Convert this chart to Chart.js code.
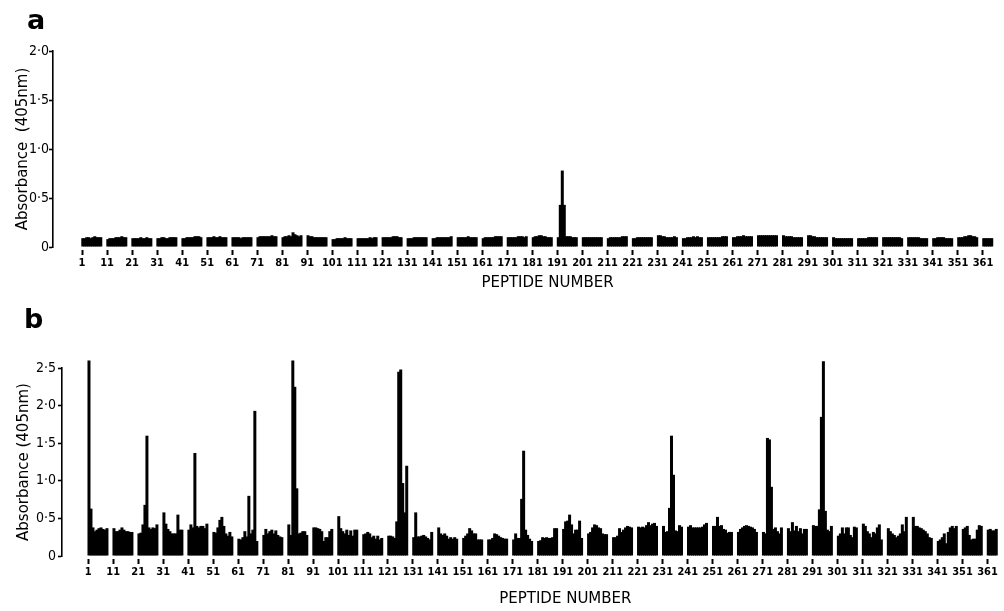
<!DOCTYPE html>
<html>
<head>
<meta charset="utf-8">
<script src="https://cdn.jsdelivr.net/npm/chart.js@4.4.1/dist/chart.umd.min.js"></script>
<style>
    html, body { margin: 0; padding: 0; background: #fff; }
    #wrap { position: relative; width: 1004px; height: 611px; overflow: hidden; }
    canvas { position: absolute; left: 0; }
    #chartA { top: 0; }
    #chartB { top: 300px; }
    .panel { position: absolute; font: bold 27px 'DejaVu Sans', sans-serif; color: #000; line-height: 1; }
</style>
</head>
<body>
<div id="wrap">
    <canvas id="chartA" width="1004" height="300" style="width:1004px;height:300px"></canvas>
    <canvas id="chartB" width="1004" height="311" style="width:1004px;height:311px"></canvas>
    <div class="panel" style="left:27px;top:6px">a</div>
    <div class="panel" style="left:24px;top:305px">b</div>
</div>
<script>
// peptide numbers on the x axis
const xTicks = [1, 11, 21, 31, 41, 51, 61, 71, 81, 91, 101, 111, 121, 131, 141, 151, 161, 171, 181,
    191, 201, 211, 221, 231, 241, 251, 261, 271, 281, 291, 301, 311, 321, 331, 341, 351, 361];
const xTickLabels = ['1', '11', '21', '31', '41', '51', '61', '71', '81', '91', '101', '111', '121', '131',
    '141', '151', '161', '171', '181', '191', '201', '211', '221', '231', '241', '251', '261', '271',
    '281', '291', '301', '311', '321', '331', '341', '351', '361'];
const yLabelsA = ['0', '0·5', '1·0', '1·5', '2·0'];
const yLabelsB = ['0', '0·5', '1·0', '1·5', '2·0', '2·5'];

// absorbance, peptides 1..365 (panel a)
const absA = [
    0.09, 0.09, 0.10, 0.10, 0.09, 0.10, 0.11, 0.10, 0.10, 0.10,
    0.08, 0.09, 0.09, 0.09, 0.10, 0.10, 0.10, 0.11, 0.10, 0.10,
    0.09, 0.09, 0.09, 0.09, 0.10, 0.09, 0.09, 0.10, 0.09, 0.09,
    0.09, 0.09, 0.10, 0.10, 0.09, 0.09, 0.10, 0.10, 0.10, 0.10,
    0.09, 0.09, 0.10, 0.10, 0.10, 0.10, 0.11, 0.11, 0.11, 0.10,
    0.10, 0.10, 0.10, 0.11, 0.10, 0.10, 0.11, 0.10, 0.10, 0.10,
    0.10, 0.10, 0.10, 0.10, 0.09, 0.10, 0.10, 0.10, 0.10, 0.10,
    0.10, 0.11, 0.11, 0.11, 0.11, 0.11, 0.11, 0.12, 0.11, 0.11,
    0.10, 0.11, 0.11, 0.12, 0.11, 0.15, 0.13, 0.12, 0.11, 0.12,
    0.12, 0.11, 0.11, 0.10, 0.10, 0.10, 0.10, 0.10, 0.10, 0.10,
    0.08, 0.08, 0.09, 0.09, 0.09, 0.09, 0.10, 0.09, 0.09, 0.09,
    0.09, 0.09, 0.09, 0.09, 0.09, 0.09, 0.10, 0.09, 0.10, 0.10,
    0.10, 0.10, 0.10, 0.10, 0.10, 0.11, 0.11, 0.11, 0.10, 0.10,
    0.09, 0.09, 0.09, 0.10, 0.10, 0.10, 0.10, 0.10, 0.10, 0.10,
    0.09, 0.09, 0.10, 0.10, 0.10, 0.10, 0.10, 0.10, 0.10, 0.11,
    0.10, 0.10, 0.10, 0.10, 0.10, 0.11, 0.10, 0.10, 0.10, 0.10,
    0.09, 0.10, 0.10, 0.10, 0.10, 0.10, 0.11, 0.11, 0.11, 0.11,
    0.10, 0.10, 0.10, 0.10, 0.10, 0.11, 0.11, 0.11, 0.10, 0.11,
    0.10, 0.11, 0.11, 0.12, 0.12, 0.11, 0.11, 0.10, 0.10, 0.10,
    0.10, 0.43, 0.78, 0.43, 0.11, 0.11, 0.11, 0.10, 0.10, 0.10,
    0.10, 0.10, 0.10, 0.10, 0.10, 0.10, 0.10, 0.10, 0.10, 0.10,
    0.09, 0.10, 0.10, 0.10, 0.10, 0.10, 0.10, 0.11, 0.11, 0.11,
    0.09, 0.09, 0.10, 0.10, 0.10, 0.10, 0.10, 0.10, 0.10, 0.10,
    0.12, 0.12, 0.11, 0.11, 0.10, 0.10, 0.10, 0.10, 0.11, 0.10,
    0.09, 0.09, 0.10, 0.10, 0.10, 0.11, 0.10, 0.11, 0.10, 0.10,
    0.10, 0.10, 0.10, 0.10, 0.10, 0.10, 0.10, 0.11, 0.11, 0.11,
    0.10, 0.10, 0.11, 0.11, 0.11, 0.12, 0.11, 0.11, 0.11, 0.11,
    0.12, 0.12, 0.12, 0.12, 0.12, 0.12, 0.12, 0.12, 0.12, 0.12,
    0.12, 0.11, 0.11, 0.11, 0.11, 0.10, 0.10, 0.10, 0.10, 0.10,
    0.12, 0.12, 0.11, 0.11, 0.10, 0.10, 0.10, 0.10, 0.10, 0.10,
    0.10, 0.09, 0.09, 0.09, 0.09, 0.09, 0.09, 0.09, 0.09, 0.09,
    0.09, 0.09, 0.09, 0.09, 0.09, 0.10, 0.10, 0.10, 0.10, 0.10,
    0.10, 0.10, 0.10, 0.10, 0.10, 0.10, 0.10, 0.10, 0.10, 0.09,
    0.10, 0.10, 0.10, 0.10, 0.10, 0.10, 0.09, 0.09, 0.09, 0.09,
    0.09, 0.09, 0.10, 0.10, 0.10, 0.10, 0.09, 0.09, 0.09, 0.09,
    0.10, 0.10, 0.10, 0.11, 0.11, 0.12, 0.12, 0.11, 0.11, 0.10,
    0.09, 0.09, 0.09, 0.09, 0.09
];

// absorbance, peptides 1..365 (panel b)
const absB = [
    2.60, 0.63, 0.38, 0.33, 0.35, 0.37, 0.38, 0.36, 0.35, 0.37,
    0.37, 0.33, 0.33, 0.35, 0.38, 0.35, 0.33, 0.33, 0.32, 0.32,
    0.30, 0.31, 0.42, 0.68, 1.60, 0.38, 0.36, 0.38, 0.37, 0.42,
    0.58, 0.43, 0.36, 0.33, 0.30, 0.30, 0.30, 0.55, 0.35, 0.35,
    0.35, 0.42, 0.38, 1.37, 0.40, 0.38, 0.40, 0.40, 0.37, 0.43,
    0.32, 0.31, 0.38, 0.48, 0.52, 0.40, 0.30, 0.27, 0.32, 0.26,
    0.23, 0.22, 0.25, 0.33, 0.26, 0.80, 0.30, 0.35, 1.93, 0.20,
    0.28, 0.36, 0.30, 0.33, 0.35, 0.30, 0.34, 0.28, 0.26, 0.25,
    0.42, 0.28, 2.60, 2.25, 0.90, 0.30, 0.31, 0.33, 0.33, 0.28,
    0.38, 0.38, 0.37, 0.36, 0.33, 0.20, 0.25, 0.25, 0.33, 0.36,
    0.53, 0.37, 0.33, 0.30, 0.35, 0.28, 0.34, 0.27, 0.35, 0.35,
    0.29, 0.30, 0.32, 0.30, 0.25, 0.27, 0.23, 0.27, 0.22, 0.24,
    0.27, 0.27, 0.26, 0.24, 0.46, 2.45, 2.48, 0.97, 0.58, 1.20,
    0.25, 0.58, 0.26, 0.26, 0.27, 0.28, 0.26, 0.24, 0.22, 0.32,
    0.38, 0.30, 0.28, 0.30, 0.27, 0.23, 0.25, 0.23, 0.25, 0.23,
    0.24, 0.27, 0.30, 0.37, 0.34, 0.30, 0.30, 0.22, 0.22, 0.22,
    0.22, 0.22, 0.24, 0.30, 0.29, 0.27, 0.25, 0.24, 0.23, 0.23,
    0.22, 0.30, 0.24, 0.24, 0.76, 1.40, 0.35, 0.28, 0.23, 0.20,
    0.20, 0.21, 0.25, 0.24, 0.25, 0.24, 0.24, 0.25, 0.37, 0.37,
    0.36, 0.46, 0.47, 0.55, 0.42, 0.30, 0.35, 0.35, 0.47, 0.24,
    0.30, 0.32, 0.38, 0.42, 0.41, 0.38, 0.37, 0.30, 0.29, 0.29,
    0.25, 0.25, 0.27, 0.37, 0.32, 0.35, 0.38, 0.40, 0.39, 0.38,
    0.39, 0.38, 0.39, 0.38, 0.41, 0.45, 0.41, 0.43, 0.44, 0.40,
    0.40, 0.32, 0.33, 0.64, 1.60, 1.08, 0.34, 0.33, 0.41, 0.39,
    0.39, 0.41, 0.38, 0.38, 0.38, 0.38, 0.38, 0.39, 0.42, 0.44,
    0.40, 0.40, 0.52, 0.40, 0.41, 0.36, 0.35, 0.31, 0.32, 0.32,
    0.32, 0.36, 0.38, 0.40, 0.41, 0.40, 0.39, 0.38, 0.36, 0.32,
    0.32, 0.30, 1.57, 1.55, 0.92, 0.36, 0.38, 0.33, 0.30, 0.38,
    0.37, 0.33, 0.45, 0.34, 0.40, 0.33, 0.37, 0.30, 0.36, 0.36,
    0.41, 0.40, 0.40, 0.62, 1.85, 2.59, 0.60, 0.35, 0.33, 0.40,
    0.27, 0.30, 0.38, 0.30, 0.38, 0.38, 0.28, 0.25, 0.39, 0.38,
    0.43, 0.40, 0.33, 0.30, 0.25, 0.32, 0.30, 0.38, 0.42, 0.22,
    0.37, 0.33, 0.30, 0.28, 0.25, 0.27, 0.30, 0.42, 0.33, 0.52,
    0.52, 0.40, 0.40, 0.38, 0.37, 0.35, 0.33, 0.30, 0.25, 0.24,
    0.20, 0.22, 0.25, 0.30, 0.17, 0.32, 0.38, 0.40, 0.37, 0.40,
    0.36, 0.38, 0.40, 0.28, 0.22, 0.23, 0.23, 0.35, 0.41, 0.40,
    0.35, 0.36, 0.34, 0.34, 0.36
];

const tickFont = "'DejaVu Sans Condensed', 'DejaVu Sans', sans-serif";
const textFont = "'DejaVu Sans', sans-serif";

// wells are printed in blocks of ten, each block a bit narrower than the tick step
function peptideX(n) {
    const block = Math.floor((n - 1) / 10);
    const well = (n - 1) % 10;
    return block * 10 + 0.9 + (well + 0.5) * 0.8;
}

function toPoints(values) {
    return values.map((v, i) => ({ x: peptideX(i + 1), y: v }));
}

// x axis caption sits a little right of the plot centre in the original
const xCaption = {
    id: 'xCaption',
    afterDraw(chart, args, opts) {
        const ctx = chart.ctx;
        const x = chart.scales.x.getPixelForValue(opts.at);
        ctx.save();
        ctx.font = '15px ' + textFont;
        ctx.fillStyle = '#000';
        ctx.textAlign = 'center';
        ctx.textBaseline = 'middle';
        ctx.fillText(opts.text, x, chart.chartArea.bottom + opts.below);
        ctx.restore();
    }
};

function panel(canvas, values, yMax, yLabels, p) {
    return new Chart(canvas, {
        type: 'bar',
        data: {
            datasets: [{
                data: toPoints(values),
                backgroundColor: '#000',
                borderWidth: 0,
                categoryPercentage: 1,
                barPercentage: 1.5,
                clip: false,
            }]
        },
        options: {
            responsive: false,
            animation: false,
            layout: { padding: { top: p.top, right: 2, left: 0, bottom: 0 } },
            plugins: {
                legend: { display: false },
                tooltip: { enabled: false },
                xCaption: { text: 'PEPTIDE NUMBER', at: p.captionAt, below: p.captionBelow },
            },
            scales: {
                x: {
                    type: 'linear',
                    offset: false,
                    min: p.xMin,
                    max: p.xMax,
                    afterBuildTicks: s => { s.ticks = xTicks.map(v => ({ value: v })); },
                    afterFit: s => { s.height = p.xHeight; },
                    border: { display: false },
                    grid: {
                        offset: false,
                        drawOnChartArea: false,
                        tickLength: 8,
                        tickColor: '#000',
                        tickWidth: 2,
                        tickBorderDash: [0, 3, 5, 30],
                    },
                    ticks: {
                        autoSkip: false,
                        maxRotation: 0,
                        padding: 2,
                        color: '#000',
                        font: { family: tickFont, size: 11, weight: 'bold' },
                        callback: (v, i) => xTickLabels[i],
                    },
                },
                y: {
                    min: 0,
                    max: yMax,
                    afterFit: s => { s.width = p.yWidth; },
                    border: { display: true, color: '#000', width: 1.6 },
                    grid: {
                        drawOnChartArea: false,
                        tickLength: 4,
                        tickColor: '#000',
                        tickWidth: 1.6,
                    },
                    ticks: {
                        stepSize: 0.5,
                        padding: p.yPad,
                        color: '#000',
                        font: { family: tickFont, size: 14 },
                        callback: (v, i) => yLabels[i],
                    },
                    title: {
                        display: true,
                        text: p.yTitle,
                        color: '#000',
                        font: { family: textFont, size: 15 },
                        padding: { top: p.yTitlePad, bottom: 0 },
                    },
                },
            },
        },
        plugins: [xCaption],
    });
}

// PANEL A
const chartA = panel(document.querySelector('#chartA'), absA, 2.0, yLabelsA, {
    top: 51, xMin: -10.6, xMax: 368.6, xHeight: 53,
    captionAt: 187, captionBelow: 36,
    yWidth: 53, yPad: 0, yTitle: 'Absorbance  (405nm)', yTitlePad: 14,
});

// PANEL B
const chartB = panel(document.querySelector('#chartB'), absB, 2.5, yLabelsB, {
    top: 68, xMin: -9.5, xMax: 366.8, xHeight: 55,
    captionAt: 192, captionBelow: 43,
    yWidth: 62, yPad: 2, yTitle: 'Absorbance (405nm)', yTitlePad: 15,
});
</script>
</body>
</html>
